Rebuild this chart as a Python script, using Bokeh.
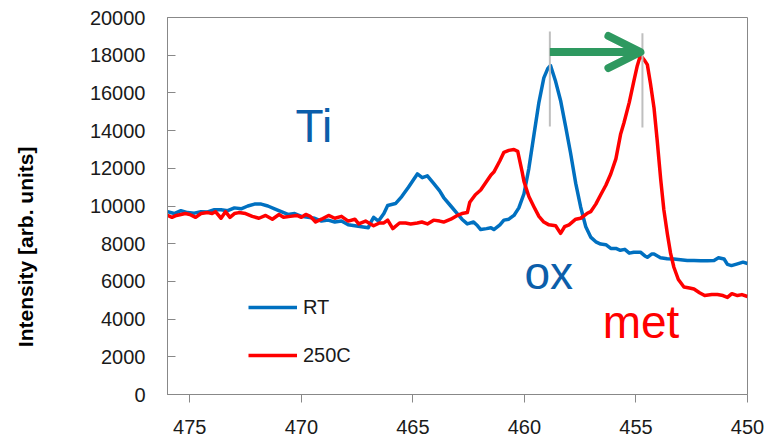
from bokeh.plotting import figure
from bokeh.models import Range1d, SingleIntervalTicker, Label, Arrow, OpenHead, Legend, LegendItem
from bokeh.embed import file_html
from bokeh.resources import INLINE

# ---- data ----
rt_energy = [476.0, 475.7, 475.4, 475.1, 474.8, 474.5, 474.2, 473.9, 473.6, 473.3,
             473.0, 472.7, 472.4, 472.1, 471.8, 471.5, 471.2, 470.9, 470.6, 470.3,
             470.0, 469.7, 469.4, 469.1, 468.8, 468.5, 468.2, 467.9, 467.6, 467.3,
             467.0, 466.9, 466.76, 466.54, 466.3, 466.13, 465.78, 465.5, 465.2, 464.8,
             464.58, 464.35, 464.07, 463.8, 463.62, 463.3, 463.01, 462.8, 462.56, 462.28,
             462.1, 461.96, 461.7, 461.5, 461.37, 461.1, 460.92, 460.7, 460.47, 460.25,
             460.02, 459.8, 459.57, 459.35, 459.13, 458.95, 458.83, 458.6, 458.38, 458.15,
             457.93, 457.7, 457.48, 457.25, 457.03, 456.8, 456.58, 456.35, 456.13, 455.9,
             455.7, 455.5, 455.3, 455.1, 454.8, 454.6, 454.49, 454.3, 454.19, 453.9,
             453.6, 453.3, 453.0, 452.7, 452.4, 452.1, 451.8, 451.5, 451.3, 451.05,
             450.9, 450.72, 450.45, 450.2, 450.0]
rt_intensity = [9700, 9600, 9750, 9650, 9620, 9700, 9680, 9800, 9800, 9750,
                9900, 9850, 10000, 10100, 10100, 10000, 9850, 9700, 9550, 9600,
                9450, 9400, 9350, 9200, 9250, 9150, 9200, 9000, 8950, 8900,
                8850, 9100, 9400, 9200, 9600, 10030, 10130, 10500, 11000, 11700,
                11500, 11600, 11200, 10800, 10450, 10000, 9600, 9300, 9050, 9150,
                8950, 8750, 8800, 8850, 8750, 9000, 9250, 9300, 9500, 9900,
                10650, 12000, 13800, 15500, 16800, 17300, 17450, 16600, 15600, 14200,
                12800, 11200, 9950, 8900, 8350, 8100, 7980, 7950, 7750, 7750,
                7650, 7700, 7500, 7550, 7550, 7350, 7280, 7450, 7450, 7250,
                7200, 7190, 7150, 7110, 7110, 7100, 7100, 7110, 7250, 7190,
                6900, 6840, 6930, 7020, 6950]

t250_energy = [476.0, 475.8, 475.6, 475.4, 475.2, 475.0, 474.74, 474.5, 474.2, 474.0,
               473.85, 473.6, 473.4, 473.2, 473.0, 472.8, 472.5, 472.2, 471.9, 471.6,
               471.3, 471.0, 470.8, 470.5, 470.2, 470.0, 469.8, 469.6, 469.36, 469.1,
               468.78, 468.5, 468.2, 467.9, 467.6, 467.43, 467.12, 466.9, 466.76, 466.5,
               466.3, 466.13, 465.9, 465.6, 465.33, 465.1, 464.8, 464.6, 464.35, 464.07,
               463.8, 463.62, 463.3, 463.01, 462.8, 462.56, 462.45, 462.2, 461.96, 461.7,
               461.5, 461.37, 461.1, 460.92, 460.7, 460.47, 460.3, 460.1, 460.02, 459.8,
               459.57, 459.35, 459.13, 458.9, 458.6, 458.38, 458.2, 458.0, 457.7, 457.48,
               457.2, 457.03, 456.8, 456.58, 456.35, 456.13, 455.9, 455.69, 455.54, 455.3,
               455.09, 454.95, 454.8, 454.6, 454.49, 454.35, 454.19, 454.05, 453.89, 453.75,
               453.59, 453.45, 453.3, 453.1, 452.85, 452.6, 452.4, 452.15, 451.92, 451.6,
               451.35, 451.1, 450.9, 450.7, 450.45, 450.25, 450.0]
t250_intensity = [9500, 9400, 9500, 9550, 9600, 9550, 9400, 9600, 9650, 9600,
                  9700, 9350, 9700, 9400, 9600, 9650, 9600, 9450, 9350, 9500,
                  9300, 9550, 9400, 9450, 9500, 9400, 9550, 9450, 9150, 9300,
                  9500, 9350, 9450, 9200, 9300, 9050, 9200, 9050, 8950, 9100,
                  9100, 9250, 8800, 9100, 9100, 9050, 9100, 9150, 9050, 9250,
                  9200, 9150, 9300, 9500, 9600, 9650, 10200, 10600, 10850, 11300,
                  11650, 11800, 12400, 12850, 12950, 13000, 12900, 11800, 11300, 10500,
                  9950, 9450, 9150, 9000, 8950, 8550, 8900, 9000, 9300, 9350,
                  9600, 9700, 10100, 10600, 11100, 11700, 12500, 13800, 14400, 15500,
                  16650, 17400, 18000, 17700, 17500, 16500, 15200, 13500, 11400, 9800,
                  8500, 7500, 6750, 6100, 5700, 5650, 5600, 5400, 5250, 5300,
                  5300, 5250, 5150, 5350, 5250, 5300, 5200]

series_names = ["RT", "250C"]
y_title = "Intensity [arb. units]"
x_ticks_interval = 5
y_ticks_interval = 2000

FONT = "Liberation Sans"
BLUE = "#0070C0"
RED = "#FF0000"
TXT_BLUE = "#0B5EAA"
GREEN = "#2E9960"
GRAY = "#BFBFBF"

p = figure(width=777, height=437, output_backend="svg", toolbar_location=None,
           x_range=Range1d(476, 450), y_range=Range1d(0, 20000),
           min_border_left=167, min_border_right=30, min_border_top=17, min_border_bottom=43)
p.xgrid.visible = False
p.ygrid.visible = False
p.outline_line_color = "#888888"
p.outline_line_width = 1
p.background_fill_color = "white"
p.border_fill_color = "white"

p.xaxis.ticker = SingleIntervalTicker(interval=x_ticks_interval)
p.yaxis.ticker = SingleIntervalTicker(interval=y_ticks_interval)
for ax in (p.xaxis[0], p.yaxis[0]):
    ax.axis_line_color = "#888888"
    ax.major_tick_line_color = "#888888"
    ax.minor_tick_line_color = None
    ax.major_label_text_font = FONT
    ax.major_label_text_font_size = "20px"
    ax.major_label_text_color = "#1a1a1a"
p.xaxis.major_tick_out = 8
p.xaxis.major_tick_in = 0
p.xaxis.major_label_standoff = 17
p.yaxis.major_tick_out = 0
p.yaxis.major_tick_in = 8
p.yaxis.major_label_standoff = 18
# trailing no-break spaces push the centred title lower, as in the reference
p.yaxis.axis_label = y_title + "\u00a0" * 14
p.yaxis.axis_label_text_font = FONT
p.yaxis.axis_label_text_font_style = "bold"
p.yaxis.axis_label_text_font_size = "21px"
p.yaxis.axis_label_text_color = "#000000"
p.yaxis.axis_label_standoff = 50

r_rt = p.line(rt_energy, rt_intensity, line_color=BLUE, line_width=3.5, line_join="round")
r_250 = p.line(t250_energy, t250_intensity, line_color=RED, line_width=3.5, line_join="round")

# peak marker lines and shift arrow
p.segment(x0=[458.86, 454.71], y0=[14220, 14160], x1=[458.86, 454.71], y1=[19260, 19170],
          line_color=GRAY, line_width=2)
p.add_layout(Arrow(x_start=458.86, y_start=18170, x_end=454.8, y_end=18170,
                   line_color=GREEN, line_width=8,
                   end=OpenHead(size=32, line_color=GREEN, line_width=8, line_cap="round",
                                line_join="round")))

for txt, x, y, col in [("Ti", 470.26, 14270, TXT_BLUE), ("ox", 460.0, 6420, TXT_BLUE),
                       ("met", 456.49, 3820, RED)]:
    p.add_layout(Label(x=x, y=y, text=txt, text_color=col, text_font=FONT,
                       text_font_size="46px", text_baseline="alphabetic", text_align="left"))

legend = Legend(items=[LegendItem(label=series_names[0], renderers=[r_rt]),
                       LegendItem(label=series_names[1], renderers=[r_250])],
                location=(81, 27), padding=0, spacing=24, glyph_width=49, glyph_height=24,
                label_height=24, label_standoff=6, border_line_color=None,
                background_fill_alpha=0, label_text_font=FONT, label_text_font_size="20px",
                label_text_color="#1a1a1a", margin=0)
p.add_layout(legend)

open("out.html", "w").write(file_html(p, INLINE))
